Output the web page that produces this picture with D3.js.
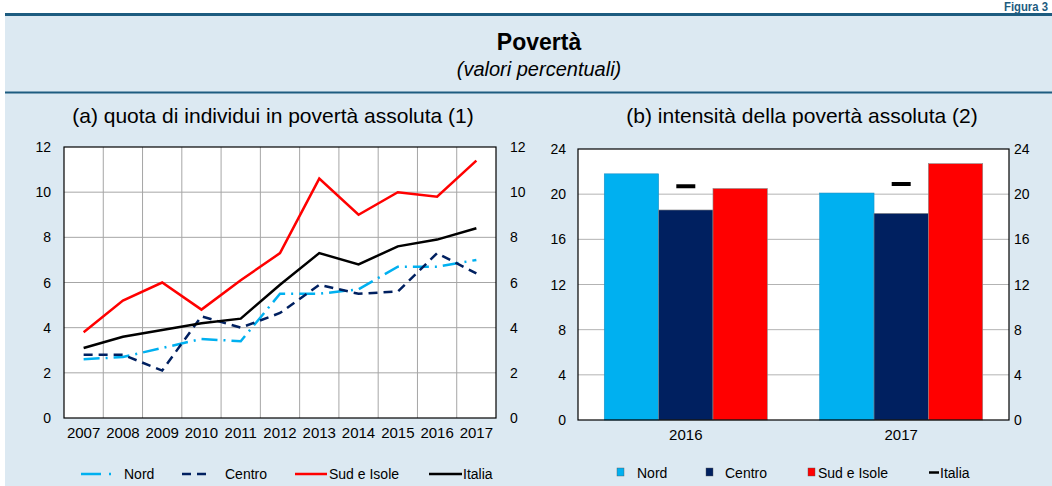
<!DOCTYPE html>
<html>
<head>
<meta charset="utf-8">
<script src="https://cdn.jsdelivr.net/npm/d3@7"></script>
<style>
  body { margin: 0; background: #fff; }
  svg { display: block; font-family: "Liberation Sans", Arial, sans-serif; }
</style>
</head>
<body>
<svg id="chart" width="1052" height="486"></svg>
<script>
// panel (a): quota di individui in poverta assoluta
var years = ["2007","2008","2009","2010","2011","2012","2013","2014","2015","2016","2017"];
var nord   = [2.6, 2.7, 3.1, 3.5, 3.4, 5.5, 5.5, 5.7, 6.7, 6.7, 7.0];
var centro = [2.8, 2.8, 2.1, 4.5, 4.0, 4.65, 5.9, 5.5, 5.6, 7.3, 6.4];
var sud    = [3.8, 5.2, 6.0, 4.8, 6.1, 7.3, 10.6, 9.0, 10.0, 9.8, 11.4];
var italia = [3.1, 3.6, 3.9, 4.2, 4.4, 5.9, 7.3, 6.8, 7.6, 7.9, 8.4];
var ticksA = [0, 2, 4, 6, 8, 10, 12];

// panel (b): intensita della poverta assoluta
var barYears = ["2016", "2017"];
var barNord   = [21.8, 20.1];
var barCentro = [18.6, 18.3];
var barSud    = [20.5, 22.7];
var barItalia = [20.7, 20.9];
var ticksB = [0, 4, 8, 12, 16, 20, 24];

var col = { nord: "#00b0f0", centro: "#002060", sud: "#ff0000", italia: "#000000" };
var bg = "#dce9f2", rule = "#1d5c80";

var svg = d3.select("#chart");

// frame
svg.append("rect").attr("x", 5).attr("y", 14).attr("width", 1047).attr("height", 472).attr("fill", bg);
svg.append("line").attr("x1", 5).attr("x2", 1052).attr("y1", 14.5).attr("y2", 14.5)
  .attr("stroke", rule).attr("stroke-width", 3);
svg.append("line").attr("x1", 5).attr("x2", 1052).attr("y1", 92.5).attr("y2", 92.5)
  .attr("stroke", rule).attr("stroke-width", 2);
svg.append("text").attr("x", 1048).attr("y", 11).attr("text-anchor", "end").attr("fill", rule)
  .attr("font-size", 12).attr("font-weight", "bold")
  .attr("textLength", 44).attr("lengthAdjust", "spacingAndGlyphs").text("Figura 3");

svg.append("text").attr("x", 539).attr("y", 50).attr("text-anchor", "middle")
  .attr("font-size", 23).attr("font-weight", "bold").text("Povertà");
svg.append("text").attr("x", 539).attr("y", 76).attr("text-anchor", "middle")
  .attr("font-size", 20).attr("font-style", "italic").text("(valori percentuali)");

svg.append("text").attr("x", 273).attr("y", 123).attr("text-anchor", "middle")
  .attr("font-size", 21).text("(a) quota di individui in povertà assoluta (1)");
svg.append("text").attr("x", 802).attr("y", 123).attr("text-anchor", "middle")
  .attr("font-size", 21).text("(b) intensità della povertà assoluta (2)");

function yLabels(g, y, ticks, xl, xr) {
  g.selectAll(".yl").data(ticks).enter().append("text")
    .attr("x", xl).attr("y", function(d) { return y(d) + 5; })
    .attr("text-anchor", "end").attr("font-size", 14).text(function(d) { return d; });
  g.selectAll(".yr").data(ticks).enter().append("text")
    .attr("x", xr).attr("y", function(d) { return y(d) + 5; })
    .attr("font-size", 14).text(function(d) { return d; });
}

// ---------- panel (a) ----------
var a = { left: 64, right: 496, top: 147, bottom: 418 };
var xA = d3.scaleBand().domain(years).range([a.left, a.right]);
var yA = d3.scaleLinear().domain([0, 12]).range([a.bottom, a.top]);

var gA = svg.append("g");
gA.append("rect").attr("x", a.left).attr("y", a.top)
  .attr("width", a.right - a.left).attr("height", a.bottom - a.top).attr("fill", "#fff");
gA.selectAll(".hg").data(ticksA.slice(1, -1)).enter().append("line")
  .attr("x1", a.left).attr("x2", a.right)
  .attr("y1", function(d) { return yA(d); }).attr("y2", function(d) { return yA(d); })
  .attr("stroke", "#a6a6a6").attr("stroke-width", 1);
gA.selectAll(".vg").data(years.slice(1)).enter().append("line")
  .attr("x1", function(d) { return xA(d); }).attr("x2", function(d) { return xA(d); })
  .attr("y1", a.top).attr("y2", a.bottom)
  .attr("stroke", "#a6a6a6").attr("stroke-width", 1);
gA.append("rect").attr("x", a.left).attr("y", a.top)
  .attr("width", a.right - a.left).attr("height", a.bottom - a.top)
  .attr("fill", "none").attr("stroke", "#000").attr("stroke-width", 1.2);

yLabels(gA, yA, ticksA, 51, 510);

gA.selectAll(".xl").data(years).enter().append("text")
  .attr("x", function(d) { return xA(d) + xA.bandwidth() / 2; }).attr("y", 438)
  .attr("text-anchor", "middle").attr("font-size", 15).text(function(d) { return d; });

var line = d3.line()
  .x(function(d, i) { return xA(years[i]) + xA.bandwidth() / 2; })
  .y(function(d) { return yA(d); });

var seriesA = [
  { v: nord,   c: col.nord,   dash: "16,6,2,6" },
  { v: centro, c: col.centro, dash: "9,6" },
  { v: sud,    c: col.sud,    dash: null },
  { v: italia, c: col.italia, dash: null }
];
seriesA.forEach(function(s) {
  gA.append("path").datum(s.v).attr("d", line).attr("fill", "none")
    .attr("stroke", s.c).attr("stroke-width", 2.5)
    .attr("stroke-dasharray", s.dash);
});

// legend (a)
var legA = svg.append("g");
legA.append("line").attr("x1", 81).attr("x2", 101).attr("y1", 474).attr("y2", 474)
  .attr("stroke", col.nord).attr("stroke-width", 2.5);
legA.append("line").attr("x1", 109).attr("x2", 111).attr("y1", 474).attr("y2", 474)
  .attr("stroke", col.nord).attr("stroke-width", 2.5);
legA.append("text").attr("x", 124).attr("y", 479).attr("font-size", 14).text("Nord");
legA.append("line").attr("x1", 182).attr("x2", 211).attr("y1", 474).attr("y2", 474)
  .attr("stroke", col.centro).attr("stroke-width", 2.5).attr("stroke-dasharray", "9,6");
legA.append("text").attr("x", 225).attr("y", 479).attr("font-size", 14).text("Centro");
legA.append("line").attr("x1", 295).attr("x2", 327).attr("y1", 474).attr("y2", 474)
  .attr("stroke", col.sud).attr("stroke-width", 2.5);
legA.append("text").attr("x", 329).attr("y", 479).attr("font-size", 14).text("Sud e Isole");
legA.append("line").attr("x1", 429).attr("x2", 462).attr("y1", 474).attr("y2", 474)
  .attr("stroke", col.italia).attr("stroke-width", 2.5);
legA.append("text").attr("x", 463).attr("y", 479).attr("font-size", 14).text("Italia");

// ---------- panel (b) ----------
var b = { left: 578, right: 1009, top: 149, bottom: 420 };
var xB = d3.scaleBand().domain(barYears).range([b.left, b.right]).paddingInner(0.243).paddingOuter(0.122);
var sub = ["nord", "centro", "sud"];
var xSub = d3.scaleBand().domain(sub).range([0, xB.bandwidth()]);
var yB = d3.scaleLinear().domain([0, 24]).range([b.bottom, b.top]);
var barVals = { nord: barNord, centro: barCentro, sud: barSud };

var gB = svg.append("g");
gB.append("rect").attr("x", b.left).attr("y", b.top)
  .attr("width", b.right - b.left).attr("height", b.bottom - b.top).attr("fill", "#fff");
gB.selectAll(".hg").data(ticksB.slice(1, -1)).enter().append("line")
  .attr("x1", b.left).attr("x2", b.right)
  .attr("y1", function(d) { return yB(d); }).attr("y2", function(d) { return yB(d); })
  .attr("stroke", "#b3b3b3").attr("stroke-width", 1);

barYears.forEach(function(yr, i) {
  sub.forEach(function(k) {
    var v = barVals[k][i];
    gB.append("rect")
      .attr("x", xB(yr) + xSub(k)).attr("y", yB(v))
      .attr("width", xSub.bandwidth()).attr("height", yB(0) - yB(v))
      .attr("fill", col[k])
      .attr("stroke", k === "nord" ? "#1a8fc4" : "#8a8a8a").attr("stroke-width", 0.6);
  });
  var cx = xB(yr) + xB.bandwidth() / 2;
  gB.append("line").attr("x1", cx - 9.5).attr("x2", cx + 9.5)
    .attr("y1", yB(barItalia[i])).attr("y2", yB(barItalia[i]))
    .attr("stroke", col.italia).attr("stroke-width", 4);
});

gB.append("rect").attr("x", b.left).attr("y", b.top)
  .attr("width", b.right - b.left).attr("height", b.bottom - b.top)
  .attr("fill", "none").attr("stroke", "#000").attr("stroke-width", 1.2);

yLabels(gB, yB, ticksB, 566, 1014);

gB.selectAll(".xl").data(barYears).enter().append("text")
  .attr("x", function(d) { return xB(d) + xB.bandwidth() / 2; }).attr("y", 440)
  .attr("text-anchor", "middle").attr("font-size", 15).text(function(d) { return d; });

// legend (b)
var legB = svg.append("g");
var legItems = [
  { k: "nord", x: 617, t: "Nord", tx: 637 },
  { k: "centro", x: 706, t: "Centro", tx: 725 },
  { k: "sud", x: 808, t: "Sud e Isole", tx: 818 }
];
legItems.forEach(function(it) {
  legB.append("rect").attr("x", it.x).attr("y", 468).attr("width", 7).attr("height", 8)
    .attr("fill", col[it.k]).attr("stroke", "#555").attr("stroke-width", 0.4);
  legB.append("text").attr("x", it.tx).attr("y", 478).attr("font-size", 14).text(it.t);
});
legB.append("line").attr("x1", 929).attr("x2", 939).attr("y1", 472.5).attr("y2", 472.5)
  .attr("stroke", "#000").attr("stroke-width", 2.5);
legB.append("text").attr("x", 940).attr("y", 478).attr("font-size", 14).text("Italia");
</script>
</body>
</html>
